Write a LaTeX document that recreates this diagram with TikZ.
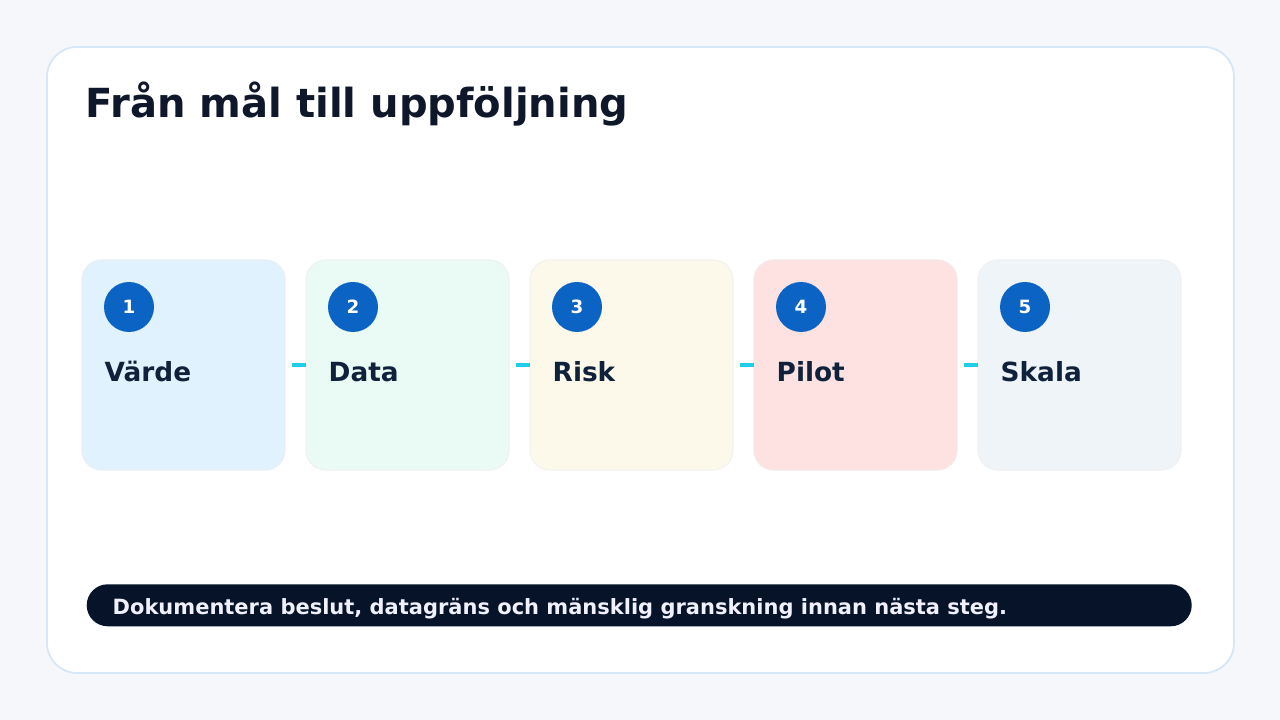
\documentclass[tikz,border=0pt]{standalone}
\usepackage{fontspec}
\setmainfont{DejaVu Sans}
\usetikzlibrary{calc}

\definecolor{pagebg}{HTML}{F5F7FA}
\definecolor{panelline}{HTML}{D6E7F7}
\definecolor{ink}{HTML}{0F172A}
\definecolor{labelink}{HTML}{10223B}
\definecolor{stepblue}{HTML}{0B63C4}
\definecolor{linkcyan}{HTML}{22CCE8}
\definecolor{barnavy}{HTML}{061329}
\definecolor{cardA}{HTML}{E0F2FE}
\definecolor{cardB}{HTML}{EAFBF5}
\definecolor{cardC}{HTML}{FDF9EA}
\definecolor{cardD}{HTML}{FEE2E2}
\definecolor{cardE}{HTML}{EFF4F9}

\tikzset{
  card/.style={draw=#1!85!gray!50, fill=#1, line width=0.4pt, rounded corners=0.2cm,
    minimum width=2.03cm, minimum height=2.1cm, outer sep=0pt, inner sep=0pt},
  stepdot/.style={circle, fill=stepblue, minimum size=0.5cm, inner sep=0pt,
    text=white, font=\bfseries\fontsize{5.2}{6}\selectfont},
  steplabel/.style={anchor=base west, inner sep=0pt, text=labelink,
    font=\bfseries\fontsize{7.5}{9}\selectfont},
  link/.style={draw=linkcyan, line width=1.15pt}
}

\begin{document}
\begin{tikzpicture}
    % Page and white panel
    \fill[pagebg] (0,0) rectangle (12.8,7.2);
    \useasboundingbox (0,0) rectangle (12.8,7.2);
    \draw[panelline, fill=white, line width=0.5pt, rounded corners=0.3cm] (0.47,0.47) rectangle (12.34,6.73);
    % Title
    \node[anchor=base west, inner sep=0pt, text=ink, font=\bfseries\fontsize{11.4}{13}\selectfont] (title) at (0.85,6.02) {Från mål till uppföljning};
    % Step cards
    \foreach \i/\lbl/\fc in {1/Värde/cardA, 2/Data/cardB, 3/Risk/cardC, 4/Pilot/cardD, 5/Skala/cardE} {
        \node[card=\fc, anchor=north west] (card\i) at ({0.82+2.24*(\i-1)},4.60) {};
        \node[stepdot] (dot\i) at ($(card\i.north west)+(0.47,-0.47)$) {\i};
        \node[steplabel] (lbl\i) at ($(card\i.north west)+(0.22,-1.22)$) {\lbl};
    }
    % Short links between the cards
    \foreach \i/\j in {1/2, 2/3, 3/4, 4/5}
        \draw[link] ($(card\i.east)+(0.07,0)$) -- (card\j.west);
    % Bottom note
    \node[fill=barnavy, rounded corners=0.21cm, minimum width=11.05cm, minimum height=0.42cm, inner sep=0pt, anchor=south west] (note) at (0.86,0.93) {};
    \node[anchor=base west, inner sep=0pt, text=white!94!blue, font=\bfseries\fontsize{5.97}{7}\selectfont] (notetext) at (1.12,1.05) {Dokumentera beslut, datagräns och mänsklig granskning innan nästa steg.};
\end{tikzpicture}
\end{document}
